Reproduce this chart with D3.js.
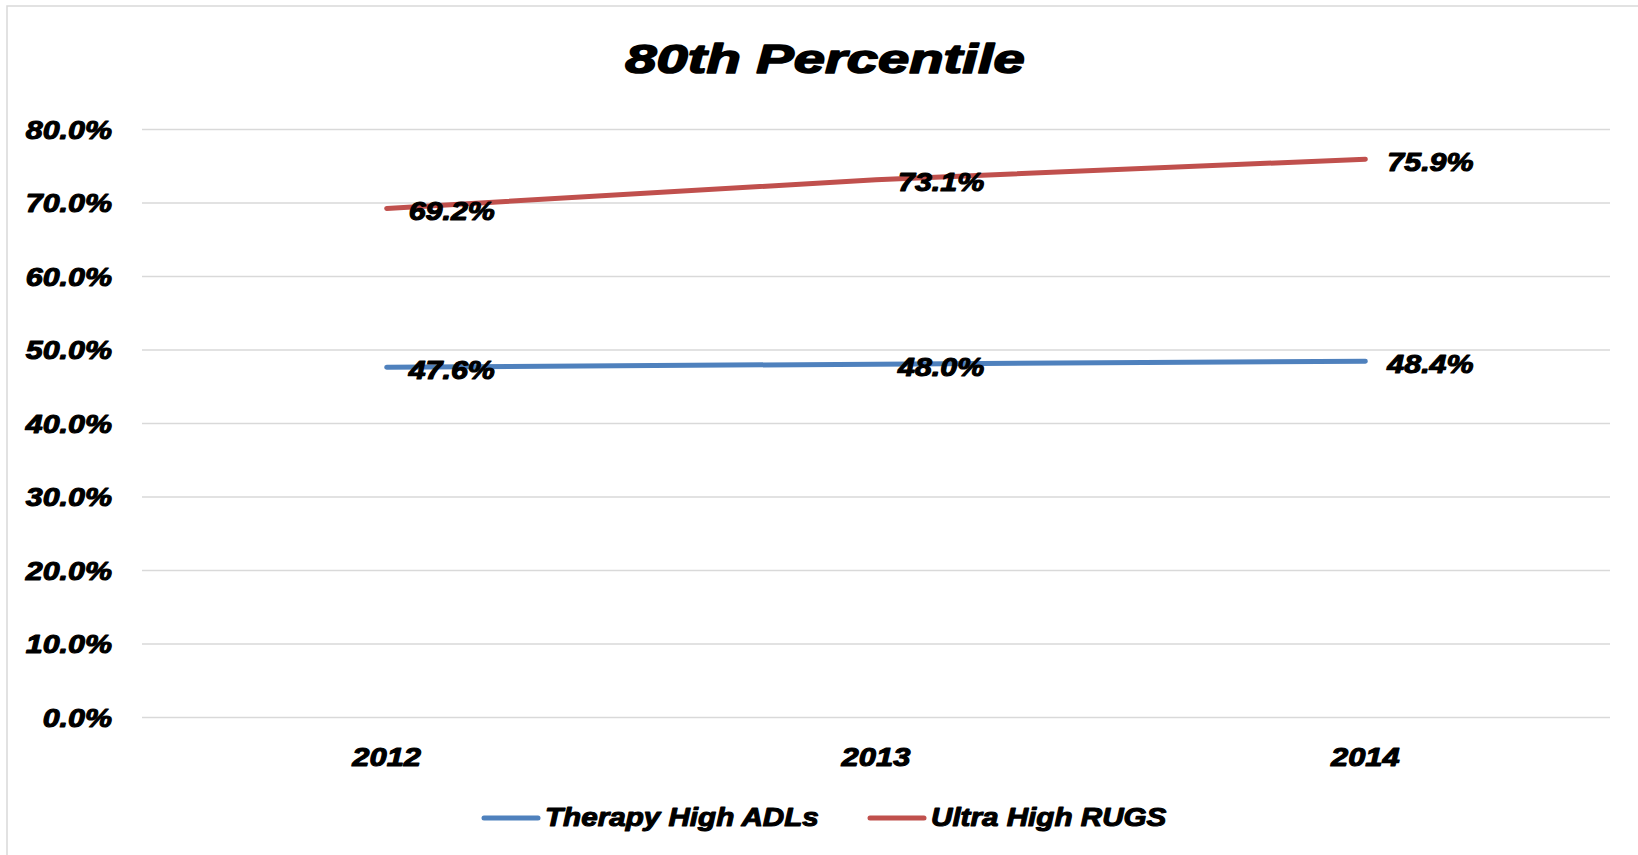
<!DOCTYPE html>
<html>
<head>
<meta charset="utf-8">
<script src="https://cdn.jsdelivr.net/npm/d3@7"></script>
<style>
  html, body { margin: 0; padding: 0; background: #fff; }
  svg { display: block; }
  .heavy { font-family: "Liberation Sans", Arial, sans-serif; font-weight: bold; font-style: italic; fill: #000; stroke: #000; stroke-linejoin: round; paint-order: stroke; }
</style>
</head>
<body>
<svg id="chart" width="1638" height="855"></svg>
<script>
// Chart data
const years = ["2012", "2013", "2014"];
const therapyHighADLs = [0.476, 0.480, 0.484];
const ultraHighRUGS = [0.692, 0.731, 0.759];
const yTicks = [0, 0.1, 0.2, 0.3, 0.4, 0.5, 0.6, 0.7, 0.8];
const seriesNames = ["Therapy High ADLs", "Ultra High RUGS"];
const seriesColors = ["#4F81BD", "#C0504D"];
const titleText = "80th Percentile";

const series = [
  { name: seriesNames[0], color: seriesColors[0], values: therapyHighADLs },
  { name: seriesNames[1], color: seriesColors[1], values: ultraHighRUGS }
];

const W = 1638, H = 855;
const plot = { left: 142, right: 1610, top: 129, bottom: 717 };

const svg = d3.select("#chart");

// chart-area frame (extends past the page on right/bottom)
svg.append("rect")
  .attr("x", 7).attr("y", 6)
  .attr("width", W + 20).attr("height", H + 20)
  .attr("fill", "#fff")
  .attr("stroke", "#d9d9d9").attr("stroke-width", 1.5);

const x = d3.scaleBand().domain(years).range([plot.left, plot.right]);
const xc = d => x(d) + x.bandwidth() / 2;
const y = d3.scaleLinear().domain([0, 0.8]).range([plot.bottom, plot.top]);
const pct = d3.format(".1%");

// Heavy, wide italic text: stretched horizontally about its anchor point
function wideText(g, str, px, py, size, sx, anchor, sw) {
  return g.append("text")
    .attr("class", "heavy")
    .attr("transform", `translate(${px},${py}) scale(${sx},1)`)
    .attr("font-size", size)
    .attr("stroke-width", sw)
    .attr("text-anchor", anchor)
    .text(str);
}

// Title
wideText(svg, titleText, 825, 73, 41, 1.37, "middle", 1.6);

// Horizontal gridlines via a D3 axis
const yAxis = svg.append("g")
  .attr("transform", `translate(${plot.left},0)`)
  .call(d3.axisLeft(y).tickValues(yTicks).tickSize(-(plot.right - plot.left)).tickFormat(""));
yAxis.select(".domain").remove();
yAxis.selectAll(".tick line").attr("stroke", "#d9d9d9").attr("stroke-width", 1.5);

// Y tick labels
const yLab = svg.append("g");
yTicks.forEach(t => {
  wideText(yLab, pct(t), 112, y(t) + 9.5, 26, 1.17, "end", 1.1);
});

// X category labels
const xLab = svg.append("g");
years.forEach(yr => {
  wideText(xLab, yr, xc(yr), 766, 26, 1.19, "middle", 1.1);
});

// Series lines
const line = d3.line().x((d, i) => xc(years[i])).y(d => y(d));
series.forEach(s => {
  svg.append("path")
    .datum(s.values)
    .attr("d", line)
    .attr("fill", "none")
    .attr("stroke", s.color)
    .attr("stroke-width", 5)
    .attr("stroke-linecap", "round")
    .attr("stroke-linejoin", "round");
});

// Data labels to the right of each point
const dl = svg.append("g");
series.forEach(s => {
  s.values.forEach((v, i) => {
    wideText(dl, pct(v), xc(years[i]) + 22, y(v) + 11.5, 26, 1.17, "start", 1.1);
  });
});

// Legend
const legendItems = [
  { x: 484, color: seriesColors[0], name: seriesNames[0] },
  { x: 870, color: seriesColors[1], name: seriesNames[1] }
];
const lg = svg.append("g");
legendItems.forEach(it => {
  lg.append("line")
    .attr("x1", it.x).attr("x2", it.x + 54)
    .attr("y1", 818).attr("y2", 818)
    .attr("stroke", it.color).attr("stroke-width", 5)
    .attr("stroke-linecap", "round");
  wideText(lg, it.name, it.x + 61, 826, 26, 1.14, "start", 1.1);
});
</script>
</body>
</html>
